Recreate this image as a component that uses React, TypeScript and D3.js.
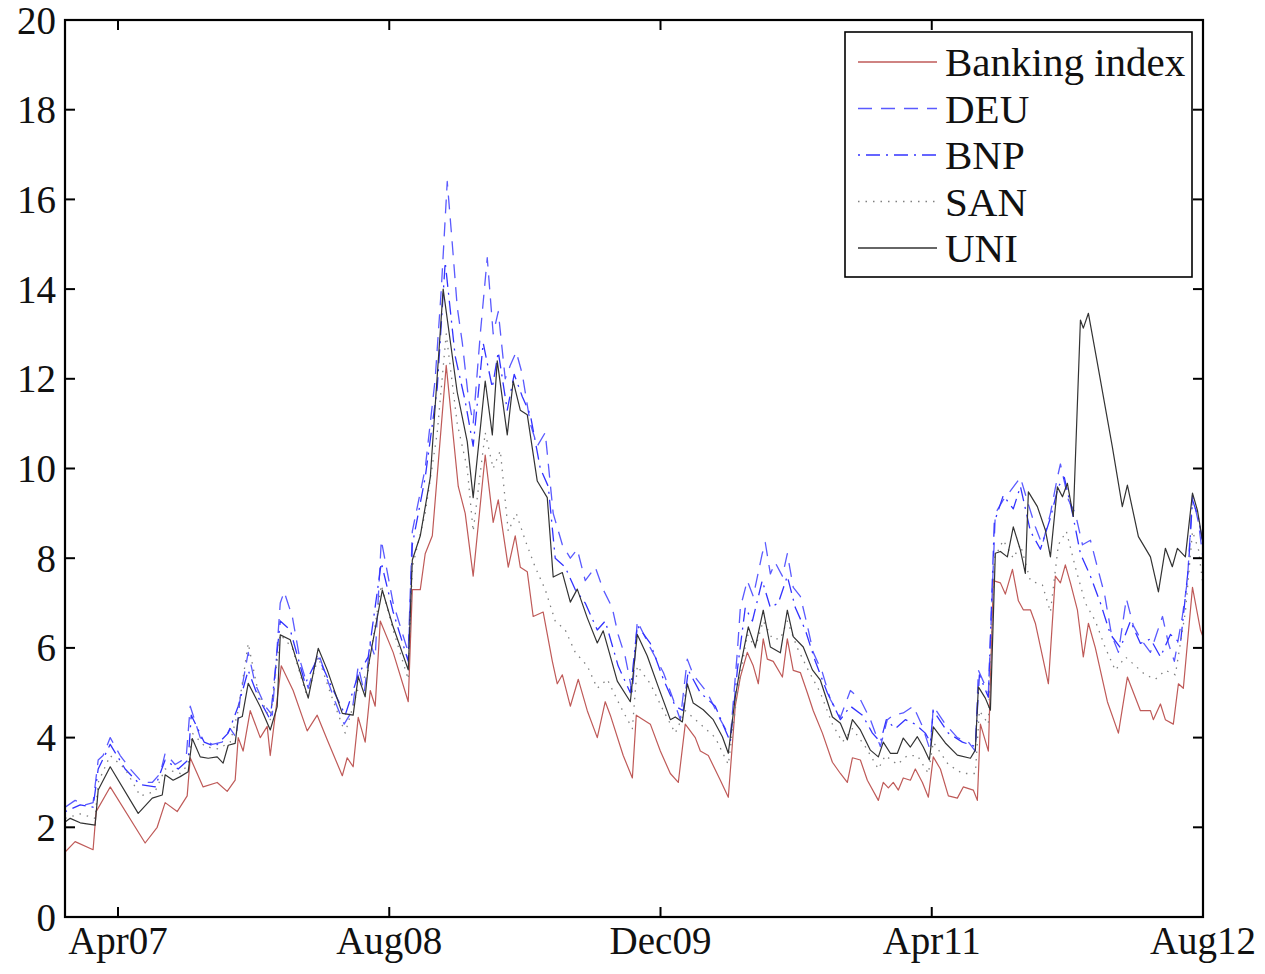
import React from "react";
import * as d3 from "d3";

// time unit: months since Jan 2007 (Apr07 = 3, Aug12 = 67)
const xTickValues = [3, 19, 35, 51, 67];
const xTickLabels = ["Apr07", "Aug08", "Dec09", "Apr11", "Aug12"];
const yTickValues = [0, 2, 4, 6, 8, 10, 12, 14, 16, 18, 20];

const banking: [number, number][] = [
  [-0.12, 1.45], [0.47, 1.68], [1.53, 1.5], [1.71, 2.35], [2.54, 2.9], [4.6, 1.65], [5.31, 2.0], [5.78, 2.55],
  [6.49, 2.35], [7.08, 2.7], [7.26, 3.55], [8.02, 2.9], [8.85, 3.0], [9.44, 2.8], [9.91, 3.05], [10.09, 4.0],
  [10.38, 3.7], [10.8, 4.6], [11.39, 4.0], [11.8, 4.25], [11.98, 3.6], [12.63, 5.6], [13.33, 5.05], [14.16, 4.15],
  [14.75, 4.5], [15.34, 3.95], [16.23, 3.15], [16.52, 3.55], [16.87, 3.35], [17.17, 4.45], [17.58, 3.9], [17.88, 5.05],
  [18.17, 4.7], [18.47, 6.6], [19.23, 5.9], [20.12, 4.8], [20.36, 7.3], [20.83, 7.3], [21.12, 8.1], [21.54, 8.5],
  [22.36, 12.3], [23.07, 9.6], [23.48, 9.0], [23.95, 7.6], [24.66, 10.3], [25.13, 8.8], [25.43, 9.3], [26.02, 7.8],
  [26.43, 8.5], [26.73, 7.8], [27.14, 7.7], [27.49, 6.7], [28.08, 6.8], [28.62, 5.7], [28.91, 5.2], [29.21, 5.4],
  [29.68, 4.7], [30.15, 5.3], [30.68, 4.6], [31.27, 4.0], [31.74, 4.8], [32.04, 4.5], [32.8, 3.6], [33.34, 3.1],
  [33.57, 4.5], [33.98, 4.4], [34.4, 4.3], [34.99, 3.7], [35.58, 3.2], [36.05, 3.0], [36.46, 4.3], [37.05, 4.0],
  [37.35, 3.7], [37.82, 3.6], [38.53, 3.05], [39.0, 2.67], [39.41, 4.7], [39.71, 5.35], [40.12, 5.9], [40.47, 5.6],
  [40.77, 5.2], [41.06, 6.2], [41.3, 5.75], [41.65, 5.7], [42.19, 5.35], [42.48, 6.2], [42.83, 5.5], [43.25, 5.45],
  [43.66, 5.0], [44.01, 4.6], [44.55, 4.1], [45.14, 3.45], [45.61, 3.2], [46.02, 3.0], [46.32, 3.55], [46.79, 3.5],
  [47.2, 3.05], [47.85, 2.6], [48.14, 3.0], [48.44, 2.88], [48.73, 3.0], [49.03, 2.83], [49.32, 3.1], [49.74, 3.05],
  [50.03, 3.3], [50.45, 3.0], [50.8, 2.67], [51.09, 3.57], [51.51, 3.3], [51.98, 2.7], [52.51, 2.65], [52.86, 2.9],
  [53.45, 2.83], [53.69, 2.6], [53.87, 4.3], [54.34, 3.7], [54.63, 7.5], [55.05, 7.45], [55.34, 7.2], [55.76, 7.75],
  [56.11, 7.05], [56.4, 6.85], [56.82, 6.85], [57.11, 6.55], [57.88, 5.2], [58.29, 7.6], [58.59, 7.45], [58.88, 7.85],
  [59.18, 7.45], [59.59, 6.85], [59.94, 5.8], [60.24, 6.55], [60.65, 6.0], [61.36, 4.8], [62.01, 4.1], [62.54, 5.35],
  [63.31, 4.6], [63.9, 4.6], [64.07, 4.4], [64.49, 4.75], [64.78, 4.4], [65.25, 4.3], [65.55, 5.2], [65.84, 5.1],
  [66.38, 7.35], [66.85, 6.4], [67.0, 6.25],
];

const deu: [number, number][] = [
  [-0.12, 2.45], [0.47, 2.6], [1.06, 2.5], [1.53, 2.55], [1.83, 3.5], [2.12, 3.6], [2.54, 4.0], [3.13, 3.6],
  [3.72, 3.3], [4.43, 3.0], [5.02, 3.0], [5.49, 3.2], [5.78, 3.65], [6.37, 3.4], [7.02, 3.55], [7.26, 4.7],
  [7.85, 4.0], [8.56, 3.85], [9.14, 3.9], [9.62, 4.2], [9.97, 4.0], [10.21, 4.9], [10.68, 5.9], [11.09, 5.2],
  [11.68, 4.7], [12.1, 4.5], [12.57, 7.0], [12.8, 7.25], [13.28, 6.7], [13.75, 5.7], [14.22, 5.1], [14.81, 5.9],
  [15.34, 5.3], [15.81, 4.8], [16.34, 4.3], [16.81, 4.6], [17.17, 5.6], [17.52, 5.0], [17.88, 6.1], [18.17, 5.8],
  [18.53, 8.4], [19.23, 7.0], [20.12, 5.9], [20.36, 8.6], [21.12, 10.0], [21.71, 12.0], [22.07, 14.0], [22.42, 16.4],
  [22.72, 15.0], [23.01, 13.6], [23.31, 12.8], [23.66, 11.6], [23.95, 11.0], [24.37, 13.0], [24.78, 14.7], [25.13, 13.0],
  [25.43, 13.5], [25.84, 12.0], [26.14, 12.3], [26.49, 12.6], [26.85, 12.1], [27.32, 11.0], [27.73, 10.5], [28.2, 10.8],
  [28.67, 9.0], [29.21, 8.3], [29.68, 8.0], [30.09, 8.2], [30.56, 7.5], [31.15, 7.8], [31.62, 7.3], [32.15, 6.9],
  [32.5, 6.3], [32.92, 5.8], [33.34, 5.0], [33.63, 6.6], [34.4, 6.0], [35.17, 5.45], [35.75, 4.85], [36.17, 4.4],
  [36.58, 5.75], [36.93, 5.4], [37.76, 5.0], [38.53, 4.4], [39.12, 4.0], [39.53, 5.9], [39.71, 6.9], [40.12, 7.5],
  [40.47, 7.15], [41.0, 8.1], [41.18, 8.35], [41.48, 7.65], [41.77, 7.9], [42.19, 7.6], [42.48, 8.1], [42.83, 7.35],
  [43.25, 7.15], [43.66, 6.5], [44.01, 5.9], [44.55, 5.45], [45.02, 4.85], [45.61, 4.45], [46.2, 5.05], [46.79, 4.85],
  [47.38, 4.4], [47.97, 3.8], [48.38, 4.4], [48.73, 4.5], [49.32, 4.55], [49.91, 4.7], [50.45, 4.25], [50.92, 3.7],
  [51.09, 4.7], [51.8, 4.3], [52.51, 4.0], [53.16, 3.9], [53.57, 3.7], [53.75, 5.5], [54.34, 5.0], [54.75, 9.0],
  [55.22, 9.3], [55.64, 9.5], [56.23, 9.8], [56.7, 9.2], [57.11, 8.7], [57.52, 8.3], [58.0, 9.0], [58.41, 9.8],
  [58.59, 10.1], [59.06, 9.3], [59.47, 9.0], [59.89, 8.3], [60.36, 8.4], [60.77, 7.8], [61.19, 7.2], [61.6, 6.3],
  [62.01, 5.9], [62.48, 7.1], [62.89, 6.5], [63.31, 6.2], [63.9, 5.9], [64.25, 6.3], [64.61, 6.7], [64.96, 6.1],
  [65.31, 5.7], [65.78, 6.7], [66.08, 7.5], [66.38, 9.4], [66.73, 8.8], [67.0, 8.0],
];

const bnp: [number, number][] = [
  [-0.12, 2.35], [0.77, 2.5], [1.53, 2.45], [1.83, 3.3], [2.54, 3.85], [3.42, 3.3], [4.31, 2.95], [5.19, 2.9],
  [5.78, 3.5], [6.55, 3.3], [7.14, 3.5], [7.32, 4.5], [8.08, 3.9], [8.73, 3.8], [9.5, 4.1], [10.09, 4.7],
  [10.68, 5.5], [11.27, 4.9], [11.98, 4.4], [12.57, 6.6], [13.16, 6.4], [14.04, 5.2], [14.81, 5.8], [15.52, 5.2],
  [16.4, 4.5], [17.17, 5.4], [17.76, 5.8], [18.53, 7.9], [19.23, 6.8], [20.12, 5.7], [20.36, 8.3], [21.12, 9.8],
  [21.83, 11.8], [22.3, 14.6], [22.89, 12.5], [23.48, 11.5], [23.95, 10.5], [24.54, 12.8], [25.08, 11.8], [25.43, 12.6],
  [25.96, 11.3], [26.37, 12.1], [26.85, 11.6], [27.32, 11.2], [27.91, 10.0], [28.38, 9.6], [28.79, 8.0], [29.38, 7.8],
  [29.97, 7.3], [30.56, 7.0], [31.27, 6.4], [31.74, 6.6], [32.5, 5.6], [33.22, 5.0], [33.63, 6.5], [34.4, 6.1],
  [35.17, 5.3], [35.87, 4.7], [36.34, 4.6], [36.64, 5.5], [37.35, 5.0], [38.23, 4.7], [39.12, 3.9], [39.53, 5.5],
  [40.0, 6.9], [40.42, 6.6], [41.0, 7.5], [41.48, 6.9], [41.95, 7.0], [42.48, 7.6], [42.95, 6.9], [43.54, 6.4],
  [44.13, 5.7], [44.84, 5.0], [45.61, 4.4], [46.2, 4.7], [46.91, 4.5], [47.5, 4.1], [47.97, 3.9], [48.32, 4.4],
  [48.85, 4.2], [49.44, 4.4], [50.03, 4.3], [50.62, 4.1], [50.92, 3.9], [51.09, 4.6], [51.98, 4.1], [52.81, 3.9],
  [53.57, 3.8], [53.81, 5.4], [54.34, 4.9], [54.69, 8.8], [55.22, 9.4], [55.81, 9.1], [56.23, 9.6], [56.82, 8.6],
  [57.41, 8.2], [58.0, 8.9], [58.47, 9.6], [58.82, 9.8], [59.3, 9.0], [59.77, 8.1], [60.36, 7.6], [60.95, 7.0],
  [61.54, 6.3], [62.13, 6.0], [62.72, 6.6], [63.31, 6.1], [63.9, 6.2], [64.49, 5.8], [65.08, 6.3], [65.67, 6.1],
  [66.14, 7.8], [66.38, 9.3], [66.73, 8.9], [67.0, 8.3],
];

const san: [number, number][] = [
  [-0.12, 2.2], [0.77, 2.3], [1.65, 2.2], [1.83, 3.0], [2.54, 3.6], [3.42, 3.3], [4.31, 2.7], [5.19, 2.8],
  [5.78, 3.3], [6.67, 3.2], [7.14, 3.4], [7.38, 4.1], [8.14, 3.8], [8.91, 3.75], [9.62, 3.9], [10.09, 4.6],
  [10.68, 6.1], [11.27, 5.0], [11.98, 4.4], [12.57, 6.3], [13.28, 6.0], [14.16, 4.9], [14.81, 5.8], [15.52, 5.0],
  [16.4, 4.1], [17.17, 5.1], [17.76, 5.5], [18.53, 7.4], [19.23, 6.4], [20.12, 5.3], [20.36, 7.8], [21.12, 9.0],
  [21.83, 10.8], [22.36, 13.0], [23.01, 11.0], [23.6, 10.0], [23.95, 8.6], [24.66, 10.8], [25.13, 10.0], [25.55, 10.4],
  [26.02, 8.6], [26.49, 9.0], [27.02, 8.4], [27.61, 7.8], [28.2, 7.3], [28.79, 6.6], [29.38, 6.4], [29.97, 5.9],
  [30.68, 5.6], [31.27, 5.1], [31.86, 5.3], [32.63, 4.7], [33.34, 4.2], [33.63, 5.6], [34.4, 5.2], [35.17, 4.6],
  [35.87, 4.1], [36.46, 4.6], [37.35, 4.3], [38.23, 4.0], [39.0, 3.4], [39.53, 5.0], [40.12, 6.3], [40.59, 6.0],
  [41.06, 6.6], [41.6, 6.2], [42.07, 6.2], [42.48, 6.6], [43.07, 6.0], [43.72, 5.5], [44.43, 5.0], [45.14, 4.3],
  [45.73, 3.9], [46.32, 4.2], [47.08, 3.8], [47.85, 3.3], [48.26, 3.6], [48.97, 3.4], [49.56, 3.6], [50.15, 3.6],
  [50.8, 3.2], [51.09, 3.9], [51.98, 3.4], [52.81, 3.2], [53.57, 3.2], [53.81, 4.6], [54.34, 4.3], [54.69, 8.0],
  [55.22, 8.4], [55.81, 8.0], [56.23, 8.3], [56.82, 7.5], [57.53, 7.4], [58.0, 6.8], [58.47, 8.3], [58.94, 8.6],
  [59.47, 7.8], [60.06, 7.0], [60.65, 6.6], [61.24, 6.0], [61.83, 5.5], [62.42, 5.8], [63.01, 5.6], [63.6, 5.4],
  [64.19, 5.3], [64.78, 5.5], [65.37, 5.4], [65.96, 6.8], [66.38, 8.6], [66.73, 8.2], [67.0, 7.4],
];

const uni: [number, number][] = [
  [-0.12, 2.12], [0.18, 2.2], [0.77, 2.1], [1.65, 2.05], [1.83, 2.83], [2.54, 3.35], [4.19, 2.31], [5.02, 2.65],
  [5.61, 2.72], [5.78, 3.17], [6.25, 3.05], [6.67, 3.13], [7.14, 3.24], [7.38, 3.98], [7.85, 3.57], [8.32, 3.54],
  [8.85, 3.57], [9.2, 3.43], [9.5, 3.83], [9.91, 3.87], [10.09, 4.43], [10.33, 4.47], [10.68, 5.21], [11.39, 4.69],
  [11.98, 4.17], [12.39, 4.69], [12.57, 6.29], [13.16, 6.18], [14.22, 4.88], [14.81, 5.99], [15.34, 5.51], [16.23, 4.54],
  [16.87, 4.5], [17.17, 5.36], [17.58, 4.91], [17.76, 5.58], [18.59, 7.29], [19.23, 6.47], [20.12, 5.51], [20.36, 7.96],
  [20.83, 8.5], [21.42, 9.8], [22.18, 14.0], [23.01, 11.7], [23.6, 10.6], [23.95, 9.35], [24.66, 11.95], [25.08, 10.75],
  [25.37, 12.4], [25.96, 10.75], [26.31, 11.95], [26.73, 11.3], [27.14, 11.2], [27.73, 9.72], [28.32, 9.35], [28.67, 7.58],
  [29.21, 7.68], [29.68, 7.02], [30.09, 7.31], [30.68, 6.67], [31.27, 6.11], [31.62, 6.38], [32.45, 5.26], [33.22, 4.8],
  [33.63, 6.3], [34.22, 5.82], [34.87, 5.13], [35.58, 4.4], [35.87, 4.46], [36.29, 4.35], [36.58, 5.2], [36.93, 4.77],
  [37.52, 4.62], [38.11, 4.4], [38.65, 4.02], [39.0, 3.65], [39.41, 4.9], [39.71, 5.58], [40.18, 6.47], [40.59, 6.02],
  [41.06, 6.84], [41.48, 6.02], [42.07, 5.89], [42.48, 6.84], [42.83, 6.25], [43.42, 6.02], [43.96, 5.51], [44.43, 5.28],
  [45.14, 4.46], [45.61, 4.32], [46.02, 3.95], [46.32, 4.4], [46.79, 4.17], [47.38, 3.72], [47.85, 3.57], [48.14, 3.9],
  [48.56, 3.65], [48.97, 3.65], [49.32, 3.99], [49.74, 3.79], [50.15, 4.02], [50.5, 3.79], [50.86, 3.5], [51.09, 4.24],
  [51.8, 3.88], [52.51, 3.61], [53.28, 3.54], [53.57, 3.72], [53.75, 5.13], [54.16, 4.88], [54.46, 4.61], [54.75, 8.11],
  [55.05, 8.15], [55.46, 8.03], [55.81, 8.7], [56.23, 8.18], [56.52, 7.66], [56.7, 9.48], [57.23, 9.15], [57.7, 8.63],
  [58.0, 8.03], [58.41, 9.59], [58.71, 9.37], [59.0, 9.67], [59.35, 8.93], [59.77, 13.31], [59.94, 13.13], [60.24, 13.46],
  [60.77, 12.35], [61.65, 10.49], [62.24, 9.15], [62.54, 9.63], [63.19, 8.48], [63.9, 8.03], [64.37, 7.25], [64.78, 8.22],
  [65.19, 7.81], [65.49, 8.22], [65.96, 8.03], [66.38, 9.45], [66.67, 9.07], [67.0, 8.33],
];

const seriesNames = ["Banking index", "DEU", "BNP", "SAN", "UNI"];
const seriesData = [banking, deu, bnp, san, uni];
const seriesColors = ["#bf5a58", "#5a5aff", "#3333ff", "#808080", "#333333"];
const seriesDash = ["", "14,9", "2,6,14,6", "1.5,6", ""];
const seriesWidth = [1.2, 1.3, 1.3, 1.3, 1.2];

const W = 1265;
const H = 974;
const L = 65, R = 1203, T = 20, B = 917;
const FONT = "'Liberation Serif', 'Times New Roman', serif";

export default function App() {
  const x = d3.scaleLinear().domain([-0.127, 67]).range([L, R]);
  const y = d3.scaleLinear().domain([0, 20]).range([B, T]);
  const line = d3
    .line<[number, number]>()
    .x((d) => x(d[0]))
    .y((d) => y(d[1]));

  const legX = 845, legY = 32, legW = 347, legH = 245;
  const rowY = (i: number) => 62 + i * 46.5;

  return (
    <svg
      width={W}
      height={H}
      style={{ position: "absolute", left: 0, top: 0, background: "#fff" }}
      fontFamily={FONT}
    >
      <rect x={0} y={0} width={W} height={H} fill="#fff" />
      <defs>
        <clipPath id="plot">
          <rect x={L} y={T} width={R - L} height={B - T} />
        </clipPath>
      </defs>
      <g clipPath="url(#plot)">
        {seriesData.map((s, i) => (
          <path
            key={seriesNames[i]}
            d={line(s) || ""}
            fill="none"
            stroke={seriesColors[i]}
            strokeWidth={seriesWidth[i]}
            strokeDasharray={seriesDash[i] || undefined}
            strokeLinejoin="round"
          />
        ))}
      </g>
      {/* axes box */}
      <rect x={L} y={T} width={R - L} height={B - T} fill="none" stroke="#000" strokeWidth={2.2} />
      {yTickValues.map((v) => (
        <g key={"y" + v}>
          <line x1={L} x2={L + 10} y1={y(v)} y2={y(v)} stroke="#000" strokeWidth={2} />
          <line x1={R - 10} x2={R} y1={y(v)} y2={y(v)} stroke="#000" strokeWidth={2} />
          <text
            x={L - 9}
            y={y(v)}
            textAnchor="end"
            dominantBaseline="central"
            fontSize={39}
            fill="#111"
          >
            {v}
          </text>
        </g>
      ))}
      {xTickValues.map((v, i) => (
        <g key={"x" + v}>
          <line x1={x(v)} x2={x(v)} y1={B} y2={B - 10} stroke="#000" strokeWidth={2} />
          <line x1={x(v)} x2={x(v)} y1={T} y2={T + 10} stroke="#000" strokeWidth={2} />
          <text x={x(v)} y={954} textAnchor="middle" fontSize={39} fill="#111">
            {xTickLabels[i]}
          </text>
        </g>
      ))}
      {/* legend */}
      <rect x={legX} y={legY} width={legW} height={legH} fill="#fff" stroke="#000" strokeWidth={1.6} />
      {seriesNames.map((n, i) => (
        <g key={"leg" + n}>
          <line
            x1={858}
            x2={937}
            y1={rowY(i)}
            y2={rowY(i)}
            stroke={seriesColors[i]}
            strokeWidth={seriesWidth[i] + 0.3}
            strokeDasharray={seriesDash[i] || undefined}
          />
          <text x={945} y={rowY(i)} dominantBaseline="central" fontSize={41} fill="#111">
            {n}
          </text>
        </g>
      ))}
    </svg>
  );
}
